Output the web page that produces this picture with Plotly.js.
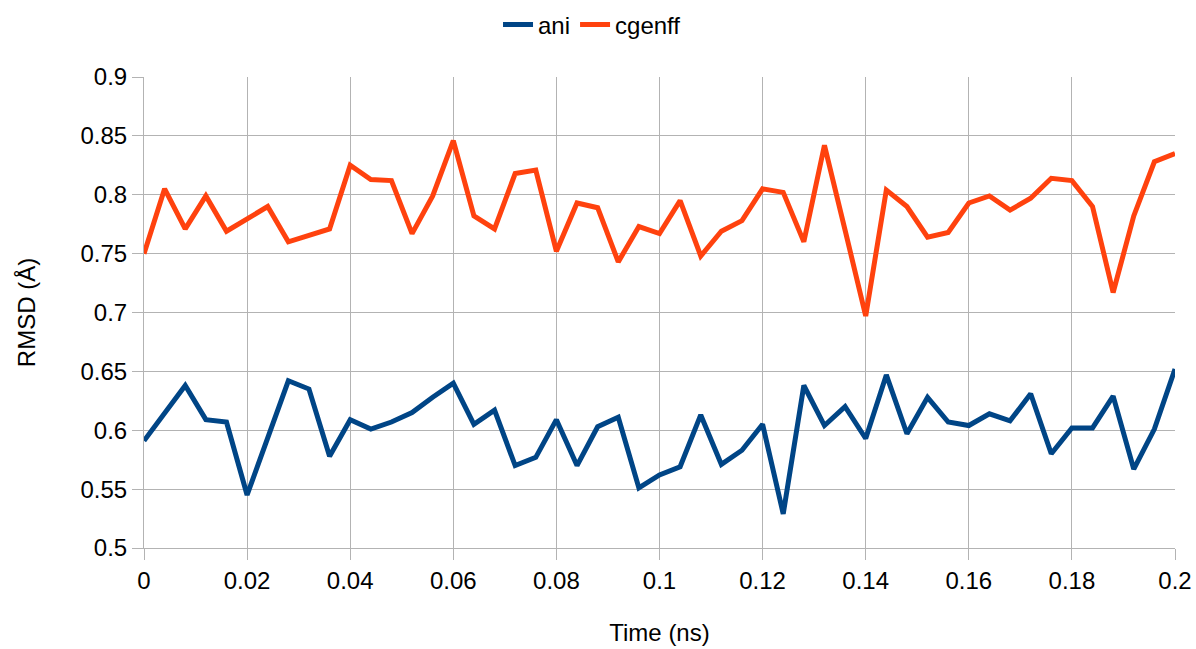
<!DOCTYPE html>
<html>
<head>
<meta charset="utf-8">
<script src="https://cdn.plot.ly/plotly-3.0.1.min.js"></script>
<style>html,body{margin:0;padding:0;background:#fff;}#chart{width:1196px;height:649px;}</style>
</head>
<body>
<div id="chart"></div>
<script>
const timeNs = [0,0.004,0.008,0.012,0.016,0.02,0.024,0.028,0.032,0.036,0.04,0.044,0.048,0.052,0.056,0.06,0.064,0.068,0.072,0.076,0.08,0.084,0.088,0.092,0.096,0.1,0.104,0.108,0.112,0.116,0.12,0.124,0.128,0.132,0.136,0.14,0.144,0.148,0.152,0.156,0.16,0.164,0.168,0.172,0.176,0.18,0.184,0.188,0.192,0.196,0.2];
const ani = [0.591,0.614,0.638,0.609,0.607,0.545,0.593,0.642,0.635,0.578,0.609,0.601,0.607,0.615,0.628,0.640,0.605,0.617,0.570,0.577,0.609,0.570,0.603,0.611,0.551,0.562,0.569,0.613,0.571,0.583,0.605,0.529,0.638,0.604,0.620,0.593,0.647,0.597,0.628,0.607,0.604,0.614,0.608,0.631,0.580,0.602,0.602,0.629,0.567,0.601,0.652];
const cgenff = [0.750,0.805,0.771,0.799,0.769,0.779,0.790,0.760,0.766,0.771,0.825,0.813,0.812,0.767,0.799,0.846,0.782,0.771,0.818,0.821,0.752,0.793,0.789,0.743,0.773,0.767,0.795,0.748,0.769,0.778,0.805,0.802,0.760,0.842,0.770,0.697,0.804,0.790,0.764,0.768,0.793,0.799,0.787,0.797,0.814,0.812,0.790,0.717,0.782,0.828,0.835];
const xTicks = [0,0.02,0.04,0.06,0.08,0.1,0.12,0.14,0.16,0.18,0.2];
const xTickLabels = ['0','0.02','0.04','0.06','0.08','0.1','0.12','0.14','0.16','0.18','0.2'];
const yTicks = [0.5,0.55,0.6,0.65,0.7,0.75,0.8,0.85,0.9];
const yTickLabels = ['0.5','0.55','0.6','0.65','0.7','0.75','0.8','0.85','0.9'];

const font = 'Liberation Sans, Arial, sans-serif';
const grid = '#b3b3b3';
const traces = [
  {x: timeNs, y: ani, name: 'ani', type: 'scatter', mode: 'lines', line: {color: '#004586', width: 5}},
  {x: timeNs, y: cgenff, name: 'cgenff', type: 'scatter', mode: 'lines', line: {color: '#ff420e', width: 5}}
];
const layout = {
  width: 1196, height: 649,
  margin: {l: 144, r: 21, t: 77, b: 101, autoexpand: false},
  paper_bgcolor: '#fff', plot_bgcolor: '#fff',
  font: {family: font, size: 24, color: '#000'},
  showlegend: true,
  legend: {orientation: 'h', xref: 'container', x: 0.495, xanchor: 'center', yref: 'container', y: 1 - 25/649, yanchor: 'middle', font: {family: font, size: 24}},
  xaxis: {
    range: [0, 0.2], tickvals: xTicks, ticktext: xTickLabels,
    showgrid: true, gridcolor: grid, gridwidth: 1,
    ticks: 'outside', ticklen: 11, tickcolor: grid, tickwidth: 1,
    showline: true, linecolor: grid, linewidth: 1,
    zeroline: false,
    tickfont: {family: font, size: 24},
    title: {text: 'Time (ns)', font: {family: font, size: 24}, standoff: 31}
  },
  yaxis: {
    range: [0.5, 0.9], tickvals: yTicks, ticktext: yTickLabels,
    showgrid: true, gridcolor: grid, gridwidth: 1,
    ticks: 'outside', ticklen: 11, tickcolor: grid, tickwidth: 1,
    showline: true, linecolor: grid, linewidth: 1,
    zeroline: false,
    tickfont: {family: font, size: 24},
    title: {text: 'RMSD (Å)', font: {family: font, size: 24}, standoff: 38}
  }
};
Plotly.newPlot('chart', traces, layout, {displayModeBar: false, staticPlot: true});
</script>
</body>
</html>
